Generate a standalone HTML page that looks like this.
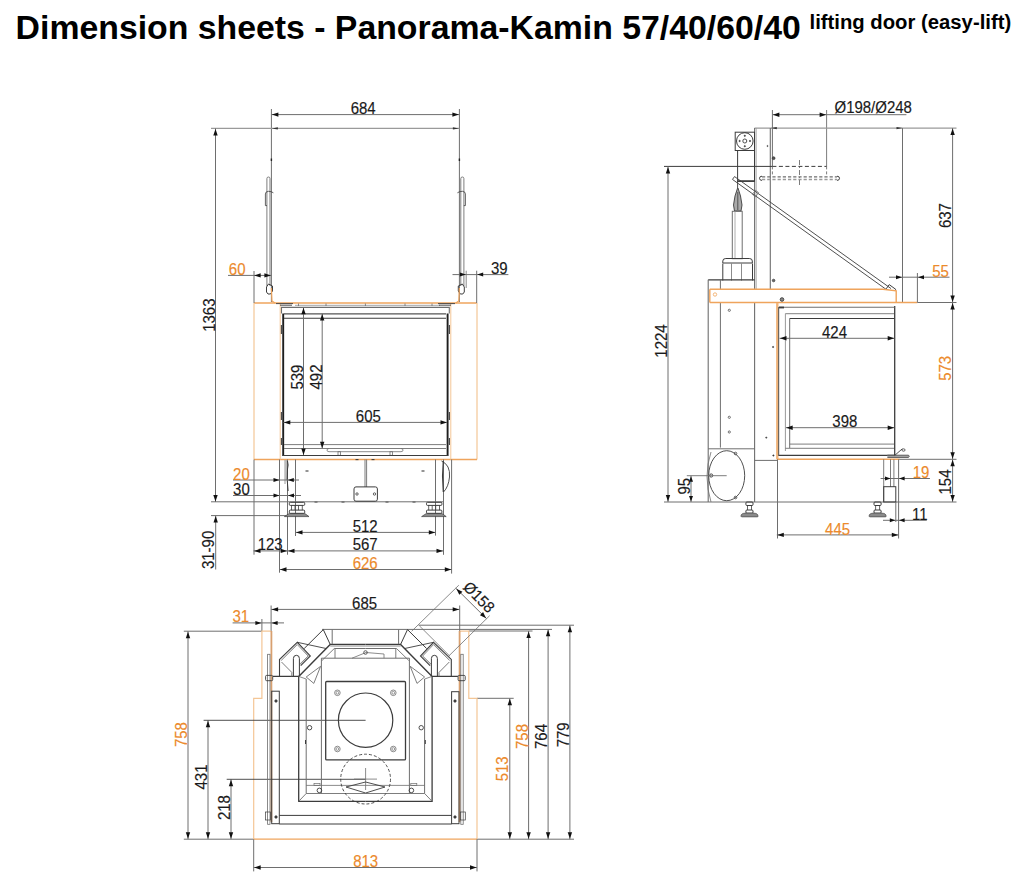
<!DOCTYPE html><html><head><meta charset="utf-8"><style>html,body{margin:0;padding:0;background:#fff;width:1023px;height:885px;overflow:hidden}svg{display:block}text{font-family:"Liberation Sans",sans-serif}</style></head><body>
<svg width="1023" height="885" viewBox="0 0 1023 885">
<rect width="1023" height="885" fill="#fff"/>
<text x="0" y="0" fill="#000" font-size="33.8" text-anchor="start" transform="translate(15.60 38.60)" font-weight="bold">Dimension sheets - Panorama-Kamin 57/40/60/40</text>
<text x="0" y="0" fill="#000" font-size="20.3" text-anchor="start" transform="translate(809.50 28.90)" font-weight="bold">lifting door (easy-lift)</text>
<line x1="271.4" y1="114.6" x2="459.4" y2="114.6" stroke="#6e6e6e" stroke-width="1.0" />
<polygon points="271.90,114.60 278.40,112.40 278.40,116.80" fill="#111"/>
<polygon points="458.90,114.60 452.40,116.80 452.40,112.40" fill="#111"/>
<line x1="271.4" y1="109" x2="271.4" y2="302" stroke="#6e6e6e" stroke-width="1.0" />
<line x1="459.4" y1="109" x2="459.4" y2="302" stroke="#6e6e6e" stroke-width="1.0" />
<text x="0" y="0" fill="#1a1a1a" font-size="15" text-anchor="middle" transform="translate(363.20 114.10) scale(1.0 1.05)" stroke="#1a1a1a" stroke-width="0.15" >684</text>
<line x1="211" y1="128.4" x2="459.4" y2="128.4" stroke="#9a9a9a" stroke-width="1.1" />
<polygon points="271.90,128.40 277.90,127.20 277.90,129.60" fill="#333"/>
<polygon points="458.90,128.40 452.90,129.60 452.90,127.20" fill="#333"/>
<line x1="215.5" y1="128.4" x2="215.5" y2="502" stroke="#6e6e6e" stroke-width="1.0" />
<polygon points="215.50,128.90 217.70,135.40 213.30,135.40" fill="#111"/>
<polygon points="215.50,501.50 213.30,495.00 217.70,495.00" fill="#111"/>
<text x="0" y="0" fill="#1a1a1a" font-size="15" text-anchor="middle" transform="translate(214.90 315.20) rotate(-90) scale(1.0 1.05)" stroke="#1a1a1a" stroke-width="0.15" >1363</text>
<path d="M266.9,286 V178.6 q0,-1.6 1.55,-1.6 q1.55,0 1.55,1.6 V286" stroke="#6e6e6e" stroke-width="0.9" fill="none" />
<path d="M267,205.6 H265.4 V194 q0,-2.5 3,-2.7 q3,0 5,1.5" stroke="#3c3c3c" stroke-width="0.8" fill="none" />
<path d="M268.5,284 q-3,2 -2,8 q1,3 4,2 q3,-2 2,-8 z" stroke="#3c3c3c" stroke-width="1.0" fill="none" />
<path d="M463.9,286 V178.6 q0,-1.6 -1.55,-1.6 q-1.55,0 -1.55,1.6 V286" stroke="#6e6e6e" stroke-width="0.9" fill="none" />
<path d="M463.79999999999995,205.6 H465.4 V194 q0,-2.5 -3,-2.7 q-3,0 -5,1.5" stroke="#3c3c3c" stroke-width="0.8" fill="none" />
<path d="M462.29999999999995,284 q3,2 2,8 q-1,3 -4,2 q-3,-2 -2,-8 z" stroke="#3c3c3c" stroke-width="1.0" fill="none" />
<line x1="254" y1="303" x2="477" y2="303" stroke="#efa45c" stroke-width="1.4" />
<line x1="254" y1="303" x2="254" y2="459.5" stroke="#f4c696" stroke-width="1.2" />
<line x1="477" y1="303" x2="477" y2="459.5" stroke="#f4c696" stroke-width="1.2" />
<line x1="254" y1="459.5" x2="477" y2="459.5" stroke="#efa45c" stroke-width="1.4" />
<line x1="280.2" y1="303" x2="280.2" y2="459.5" stroke="#f4c696" stroke-width="1.0" />
<line x1="450.8" y1="303" x2="450.8" y2="459.5" stroke="#f4c696" stroke-width="1.0" />
<path d="M271.4,288 L272,301 L275,303" stroke="#efa45c" stroke-width="1.2" fill="none" />
<path d="M459.4,288 L458.8,301 L455.8,303" stroke="#efa45c" stroke-width="1.2" fill="none" />
<line x1="228" y1="275.4" x2="271.4" y2="275.4" stroke="#6e6e6e" stroke-width="1.0" />
<line x1="254" y1="271" x2="254" y2="303" stroke="#6e6e6e" stroke-width="1.0" />
<polygon points="254.20,275.40 260.70,273.20 260.70,277.60" fill="#111"/>
<polygon points="270.90,275.40 264.40,277.60 264.40,273.20" fill="#111"/>
<text x="0" y="0" fill="#ec8a2c" font-size="15" text-anchor="middle" transform="translate(237.20 275.40) scale(1.0 1.05)" stroke="#ec8a2c" stroke-width="0.15" >60</text>
<line x1="452.5" y1="274.6" x2="508.4" y2="274.6" stroke="#6e6e6e" stroke-width="1.0" />
<line x1="466.2" y1="270.7" x2="466.2" y2="288" stroke="#6e6e6e" stroke-width="0.8" />
<line x1="476.7" y1="270.7" x2="476.7" y2="303" stroke="#6e6e6e" stroke-width="1.0" />
<polygon points="465.80,274.60 459.80,276.60 459.80,272.60" fill="#111"/>
<polygon points="477.20,274.60 483.20,272.60 483.20,276.60" fill="#111"/>
<text x="0" y="0" fill="#1a1a1a" font-size="15" text-anchor="middle" transform="translate(499.30 274.10) scale(1.0 1.05)" stroke="#1a1a1a" stroke-width="0.15" >39</text>
<line x1="295" y1="305.3" x2="440" y2="305.3" stroke="#9a9a9a" stroke-width="0.9" />
<path d="M276,303.6 H293 M280,305.2 H292" stroke="#3c3c3c" stroke-width="0.9" fill="none" />
<path d="M438,303.6 H455 M439,305.2 H451" stroke="#3c3c3c" stroke-width="0.9" fill="none" />
<line x1="298.5" y1="303.5" x2="298.5" y2="306" stroke="#6e6e6e" stroke-width="0.8" />
<line x1="326" y1="303.5" x2="326" y2="306" stroke="#6e6e6e" stroke-width="0.8" />
<line x1="365.4" y1="303.5" x2="365.4" y2="306" stroke="#6e6e6e" stroke-width="0.8" />
<line x1="405" y1="303.5" x2="405" y2="306" stroke="#6e6e6e" stroke-width="0.8" />
<line x1="432" y1="303.5" x2="432" y2="306" stroke="#6e6e6e" stroke-width="0.8" />
<line x1="283.2" y1="313.5" x2="283.2" y2="456" stroke="#1e1e1e" stroke-width="1.9" />
<line x1="447.6" y1="313.5" x2="447.6" y2="456" stroke="#1e1e1e" stroke-width="1.9" />
<path d="M281.5,313.5 V307.4 H449.3 V313.5" stroke="#6e6e6e" stroke-width="1.1" fill="none" />
<line x1="284" y1="313.8" x2="446" y2="313.8" stroke="#555" stroke-width="1.2" />
<line x1="281.4" y1="325" x2="281.4" y2="334" stroke="#444" stroke-width="1.1" />
<line x1="449.4" y1="325" x2="449.4" y2="334" stroke="#444" stroke-width="1.1" />
<line x1="281.4" y1="412" x2="281.4" y2="420" stroke="#444" stroke-width="1.1" />
<line x1="449.4" y1="412" x2="449.4" y2="420" stroke="#444" stroke-width="1.1" />
<line x1="281.4" y1="438" x2="281.4" y2="445" stroke="#444" stroke-width="1.1" />
<line x1="449.4" y1="438" x2="449.4" y2="445" stroke="#444" stroke-width="1.1" />
<line x1="271.4" y1="158.5" x2="271.4" y2="161.0" stroke="#222" stroke-width="1.4" />
<line x1="459.4" y1="158.5" x2="459.4" y2="161.0" stroke="#222" stroke-width="1.4" />
<line x1="284" y1="318.2" x2="446" y2="318.2" stroke="#3c3c3c" stroke-width="1.1" />
<line x1="284" y1="444.6" x2="446" y2="444.6" stroke="#6e6e6e" stroke-width="0.9" />
<line x1="284" y1="448.5" x2="446" y2="448.5" stroke="#6e6e6e" stroke-width="0.9" />
<path d="M329,448.5 q-2,0 -2,1.6 q0,1.6 2,1.6 H401 q2,0 2,-1.6 q0,-1.6 -2,-1.6" stroke="#6e6e6e" stroke-width="0.8" fill="none" />
<rect x="338" y="451.7" width="2.4" height="3.6" stroke="#6e6e6e" stroke-width="0.8" fill="none" rx="0"/>
<rect x="390" y="451.7" width="2.4" height="3.6" stroke="#6e6e6e" stroke-width="0.8" fill="none" rx="0"/>
<line x1="282.6" y1="455.5" x2="448" y2="455.5" stroke="#3c3c3c" stroke-width="1.1" />
<line x1="303.5" y1="307.5" x2="303.5" y2="455" stroke="#6e6e6e" stroke-width="1.0" />
<polygon points="303.50,307.80 305.70,314.30 301.30,314.30" fill="#111"/>
<polygon points="303.50,455.00 301.30,448.50 305.70,448.50" fill="#111"/>
<text x="0" y="0" fill="#1a1a1a" font-size="15" text-anchor="middle" transform="translate(303.00 377.10) rotate(-90) scale(1.0 1.05)" stroke="#1a1a1a" stroke-width="0.15" >539</text>
<line x1="322.2" y1="313.8" x2="322.2" y2="448.2" stroke="#6e6e6e" stroke-width="1.0" />
<polygon points="322.20,314.00 324.40,320.50 320.00,320.50" fill="#111"/>
<polygon points="322.20,448.20 320.00,441.70 324.40,441.70" fill="#111"/>
<text x="0" y="0" fill="#1a1a1a" font-size="15" text-anchor="middle" transform="translate(321.60 377.00) rotate(-90) scale(1.0 1.05)" stroke="#1a1a1a" stroke-width="0.15" >492</text>
<line x1="283.5" y1="422.4" x2="447" y2="422.4" stroke="#6e6e6e" stroke-width="1.0" />
<polygon points="283.80,422.40 290.30,420.20 290.30,424.60" fill="#111"/>
<polygon points="447.00,422.40 440.50,424.60 440.50,420.20" fill="#111"/>
<text x="0" y="0" fill="#1a1a1a" font-size="15" text-anchor="middle" transform="translate(368.30 421.60) scale(1.0 1.05)" stroke="#1a1a1a" stroke-width="0.15" >605</text>
<line x1="254" y1="459.5" x2="254" y2="554.7" stroke="#6e6e6e" stroke-width="1.0" />
<line x1="279.5" y1="459.5" x2="279.5" y2="572.7" stroke="#6e6e6e" stroke-width="1.0" />
<line x1="287.5" y1="459.5" x2="287.5" y2="554.7" stroke="#6e6e6e" stroke-width="1.0" />
<line x1="295.5" y1="459.5" x2="295.5" y2="536" stroke="#6e6e6e" stroke-width="1.0" />
<line x1="435.5" y1="459.5" x2="435.5" y2="535.6" stroke="#6e6e6e" stroke-width="1.0" />
<line x1="443.5" y1="459.5" x2="443.5" y2="554.8" stroke="#6e6e6e" stroke-width="1.0" />
<line x1="451.6" y1="459.5" x2="451.6" y2="573.6" stroke="#6e6e6e" stroke-width="1.0" />
<path d="M285,460 V484 M286.2,460 V480" stroke="#9a9a9a" stroke-width="1.0" fill="none" />
<path d="M287.5,461 q1.2,4 0,8 q-0.8,12 0.6,22" stroke="#3c3c3c" stroke-width="1.0" fill="none" />
<path d="M441.5,461 q9,4 8,16 q-1,10 -6,15" stroke="#3c3c3c" stroke-width="0.9" fill="none" />
<path d="M443.3,461 q-1.5,15 0,31" stroke="#3c3c3c" stroke-width="1.2" fill="none" />
<line x1="305.5" y1="471" x2="308.5" y2="471" stroke="#3c3c3c" stroke-width="1.1" />
<line x1="421.5" y1="471" x2="424.5" y2="471" stroke="#3c3c3c" stroke-width="1.1" />
<line x1="314.5" y1="502" x2="317.5" y2="502" stroke="#3c3c3c" stroke-width="1.1" />
<line x1="341.5" y1="502" x2="344.5" y2="502" stroke="#3c3c3c" stroke-width="1.1" />
<line x1="385.5" y1="502" x2="388.5" y2="502" stroke="#3c3c3c" stroke-width="1.1" />
<line x1="412.5" y1="502" x2="415.5" y2="502" stroke="#3c3c3c" stroke-width="1.1" />
<line x1="355.5" y1="459.6" x2="358.5" y2="459.6" stroke="#3c3c3c" stroke-width="1.1" />
<line x1="371.5" y1="459.6" x2="374.5" y2="459.6" stroke="#3c3c3c" stroke-width="1.1" />
<line x1="211" y1="501.8" x2="443" y2="501.8" stroke="#6e6e6e" stroke-width="1.0" />
<line x1="211" y1="515.6" x2="300" y2="515.6" stroke="#6e6e6e" stroke-width="1.0" />
<line x1="365" y1="459.5" x2="365" y2="487" stroke="#6e6e6e" stroke-width="0.9" />
<line x1="366.6" y1="459.5" x2="366.6" y2="487" stroke="#6e6e6e" stroke-width="0.9" />
<rect x="354" y="486.9" width="23.4" height="14.3" stroke="#3c3c3c" stroke-width="1.0" fill="none" rx="2"/>
<circle cx="357" cy="494" r="1.2" stroke="#3c3c3c" stroke-width="0.8" fill="none" />
<circle cx="374.5" cy="494" r="1.2" stroke="#3c3c3c" stroke-width="0.8" fill="none" />
<rect x="289.3" y="502.3" width="15.4" height="3.1" stroke="#3c3c3c" stroke-width="1.0" fill="none" rx="1"/>
<line x1="291.5" y1="505.4" x2="291.5" y2="510.1" stroke="#3c3c3c" stroke-width="0.8" />
<line x1="295" y1="505.4" x2="295" y2="510.1" stroke="#3c3c3c" stroke-width="0.8" />
<line x1="298.5" y1="505.4" x2="298.5" y2="510.1" stroke="#3c3c3c" stroke-width="0.8" />
<line x1="302.3" y1="505.4" x2="302.3" y2="510.1" stroke="#3c3c3c" stroke-width="0.8" />
<rect x="289.3" y="510.1" width="15.4" height="3.3" stroke="#3c3c3c" stroke-width="1.0" fill="none" rx="1"/>
<path d="M284.4,516.6 L289.3,513.4 H304.7 L309,516.6 Z" stroke="#3c3c3c" stroke-width="0.7" fill="#8a8a8a" />
<rect x="426.5" y="502.3" width="15.4" height="3.1" stroke="#3c3c3c" stroke-width="1.0" fill="none" rx="1"/>
<line x1="428.7" y1="505.4" x2="428.7" y2="510.1" stroke="#3c3c3c" stroke-width="0.8" />
<line x1="432.2" y1="505.4" x2="432.2" y2="510.1" stroke="#3c3c3c" stroke-width="0.8" />
<line x1="435.7" y1="505.4" x2="435.7" y2="510.1" stroke="#3c3c3c" stroke-width="0.8" />
<line x1="439.5" y1="505.4" x2="439.5" y2="510.1" stroke="#3c3c3c" stroke-width="0.8" />
<rect x="426.5" y="510.1" width="15.4" height="3.3" stroke="#3c3c3c" stroke-width="1.0" fill="none" rx="1"/>
<path d="M421.59999999999997,516.6 L426.5,513.4 H441.9 L446.2,516.6 Z" stroke="#3c3c3c" stroke-width="0.7" fill="#8a8a8a" />
<line x1="233" y1="480" x2="299" y2="480" stroke="#6e6e6e" stroke-width="1.0" />
<polygon points="279.50,480.00 273.50,482.00 273.50,478.00" fill="#111"/>
<polygon points="287.80,480.00 293.80,478.00 293.80,482.00" fill="#111"/>
<text x="0" y="0" fill="#ec8a2c" font-size="15" text-anchor="middle" transform="translate(241.40 479.60) scale(1.0 1.05)" stroke="#ec8a2c" stroke-width="0.15" >20</text>
<line x1="233" y1="495.5" x2="301" y2="495.5" stroke="#6e6e6e" stroke-width="1.0" />
<polygon points="279.50,495.50 273.50,497.50 273.50,493.50" fill="#111"/>
<polygon points="288.00,495.50 294.00,493.50 294.00,497.50" fill="#111"/>
<text x="0" y="0" fill="#1a1a1a" font-size="15" text-anchor="middle" transform="translate(241.40 495.00) scale(1.0 1.05)" stroke="#1a1a1a" stroke-width="0.15" >30</text>
<line x1="215.7" y1="515.6" x2="215.7" y2="569.5" stroke="#6e6e6e" stroke-width="1.0" />
<polygon points="215.70,516.00 217.90,522.50 213.50,522.50" fill="#111"/>
<text x="0" y="0" fill="#1a1a1a" font-size="15" text-anchor="middle" transform="translate(214.30 549.90) rotate(-90) scale(1.0 1.05)" stroke="#1a1a1a" stroke-width="0.15" >31-90</text>
<line x1="295.5" y1="532.4" x2="435.8" y2="532.4" stroke="#6e6e6e" stroke-width="1.0" />
<polygon points="296.00,532.40 302.50,530.20 302.50,534.60" fill="#111"/>
<polygon points="435.30,532.40 428.80,534.60 428.80,530.20" fill="#111"/>
<text x="0" y="0" fill="#1a1a1a" font-size="15" text-anchor="middle" transform="translate(365.20 531.50) scale(1.0 1.05)" stroke="#1a1a1a" stroke-width="0.15" >512</text>
<line x1="253.5" y1="550.9" x2="443.5" y2="550.9" stroke="#6e6e6e" stroke-width="1.0" />
<polygon points="254.00,550.90 260.50,548.70 260.50,553.10" fill="#111"/>
<polygon points="287.20,550.90 280.70,553.10 280.70,548.70" fill="#111"/>
<polygon points="288.00,550.90 294.50,548.70 294.50,553.10" fill="#111"/>
<polygon points="443.00,550.90 436.50,553.10 436.50,548.70" fill="#111"/>
<text x="0" y="0" fill="#1a1a1a" font-size="15" text-anchor="middle" transform="translate(270.20 550.10) scale(1.0 1.05)" stroke="#1a1a1a" stroke-width="0.15" >123</text>
<text x="0" y="0" fill="#1a1a1a" font-size="15" text-anchor="middle" transform="translate(365.20 550.20) scale(1.0 1.05)" stroke="#1a1a1a" stroke-width="0.15" >567</text>
<line x1="279.5" y1="569.5" x2="451.8" y2="569.5" stroke="#6e6e6e" stroke-width="1.0" />
<polygon points="280.00,569.50 286.50,567.30 286.50,571.70" fill="#111"/>
<polygon points="451.30,569.50 444.80,571.70 444.80,567.30" fill="#111"/>
<text x="0" y="0" fill="#ec8a2c" font-size="15" text-anchor="middle" transform="translate(365.20 569.00) scale(1.0 1.05)" stroke="#ec8a2c" stroke-width="0.15" >626</text>
<line x1="772.4" y1="114.7" x2="906.4" y2="114.7" stroke="#6e6e6e" stroke-width="1.0" />
<polygon points="772.90,114.70 779.40,112.50 779.40,116.90" fill="#111"/>
<polygon points="826.10,114.70 819.60,116.90 819.60,112.50" fill="#111"/>
<line x1="772.4" y1="110" x2="772.4" y2="166.4" stroke="#6e6e6e" stroke-width="1.0" />
<line x1="826.6" y1="110" x2="826.6" y2="166.4" stroke="#6e6e6e" stroke-width="0.9" />
<line x1="772.4" y1="166.4" x2="772.4" y2="176" stroke="#6e6e6e" stroke-width="0.9" stroke-dasharray="3,2"/>
<line x1="826.6" y1="166.4" x2="826.6" y2="176" stroke="#6e6e6e" stroke-width="0.9" stroke-dasharray="3,2"/>
<text x="0" y="0" fill="#1a1a1a" font-size="15" text-anchor="middle" transform="translate(873.20 113.30) scale(1.0 1.05)" stroke="#1a1a1a" stroke-width="0.15" >Ø198/Ø248</text>
<line x1="754.5" y1="128.1" x2="956.5" y2="128.1" stroke="#9a9a9a" stroke-width="1.2" />
<polygon points="902.50,128.10 896.50,129.30 896.50,126.90" fill="#333"/>
<polygon points="770.80,128.10 776.80,126.90 776.80,129.30" fill="#333"/>
<line x1="754.6" y1="128.1" x2="754.6" y2="502" stroke="#6e6e6e" stroke-width="1.1" />
<line x1="756.2" y1="128.1" x2="756.2" y2="289" stroke="#9a9a9a" stroke-width="0.8" />
<line x1="770.3" y1="128.1" x2="770.3" y2="289" stroke="#6e6e6e" stroke-width="1.1" />
<line x1="902.5" y1="128.1" x2="902.5" y2="302.5" stroke="#6e6e6e" stroke-width="1.0" />
<rect x="735.2" y="132.2" width="19.3" height="18.3" stroke="#3c3c3c" stroke-width="1.0" fill="none" rx="0"/>
<circle cx="744.8" cy="141" r="8.3" stroke="#3c3c3c" stroke-width="1.0" fill="none" />
<circle cx="744.8" cy="141" r="2.0" stroke="#3c3c3c" stroke-width="0.9" fill="none" />
<circle cx="750.0" cy="141.0" r="0.7" stroke="#3c3c3c" stroke-width="0.6" fill="#3c3c3c" />
<circle cx="744.8" cy="146.2" r="0.7" stroke="#3c3c3c" stroke-width="0.6" fill="#3c3c3c" />
<circle cx="739.5999999999999" cy="141.0" r="0.7" stroke="#3c3c3c" stroke-width="0.6" fill="#3c3c3c" />
<circle cx="744.8" cy="135.8" r="0.7" stroke="#3c3c3c" stroke-width="0.6" fill="#3c3c3c" />
<rect x="737.6" y="150.5" width="16.9" height="30.9" stroke="#3c3c3c" stroke-width="1.0" fill="none" rx="0"/>
<line x1="737.6" y1="181" x2="754.5" y2="181" stroke="#3c3c3c" stroke-width="1.5" />
<circle cx="743" cy="143" r="0" stroke="#3c3c3c" stroke-width="1.0" fill="none" />
<circle cx="773.6" cy="158.2" r="1.4" stroke="#3c3c3c" stroke-width="0.8" fill="#555" />
<line x1="664" y1="166.4" x2="772.4" y2="166.4" stroke="#3c3c3c" stroke-width="1.0" />
<line x1="772.4" y1="166.4" x2="826.6" y2="166.4" stroke="#3c3c3c" stroke-width="1.0" stroke-dasharray="4,2.5"/>
<line x1="762" y1="176.8" x2="837" y2="176.8" stroke="#6e6e6e" stroke-width="1.3" stroke-dasharray="3.2,2"/>
<line x1="762" y1="179.6" x2="837" y2="179.6" stroke="#9a9a9a" stroke-width="1.5" stroke-dasharray="3.2,2"/>
<path d="M762,176.2 q-2.5,0 -2.5,2.1 q0,2.1 2.5,2.1" stroke="#3c3c3c" stroke-width="1.0" fill="none" />
<path d="M837,176.2 q2.5,0 2.5,2.1 q0,2.1 -2.5,2.1" stroke="#3c3c3c" stroke-width="1.0" fill="none" />
<line x1="799.5" y1="160" x2="799.5" y2="186" stroke="#6e6e6e" stroke-width="0.9" stroke-dasharray="5,2,1,2"/>
<line x1="668" y1="166.4" x2="668" y2="502" stroke="#6e6e6e" stroke-width="1.0" />
<polygon points="668.00,166.90 670.20,173.40 665.80,173.40" fill="#111"/>
<polygon points="668.00,501.50 665.80,495.00 670.20,495.00" fill="#111"/>
<text x="0" y="0" fill="#1a1a1a" font-size="15" text-anchor="middle" transform="translate(666.80 341.00) rotate(-90) scale(1.0 1.05)" stroke="#1a1a1a" stroke-width="0.15" >1224</text>
<line x1="734.5197036032662" y1="176.5777818164972" x2="891.0197036032662" y2="288.5777818164972" stroke="#3c3c3c" stroke-width="0.9" />
<line x1="732.4802963967338" y1="179.4222181835028" x2="888.9802963967338" y2="291.4222181835028" stroke="#3c3c3c" stroke-width="0.9" />
<line x1="734.5197036032662" y1="176.5777818164972" x2="732.4802963967338" y2="179.4222181835028" stroke="#3c3c3c" stroke-width="0.9" />
<g transform="translate(755.5,193.5) rotate(35.64)">
<rect x="-2" y="-2.6" width="4" height="5.2" stroke="#6e6e6e" stroke-width="0.7" fill="none" rx="0"/>
</g>
<g transform="translate(891,289) rotate(35.64)">
<rect x="-4" y="-2.5" width="8" height="5" stroke="#3c3c3c" stroke-width="0.9" fill="none" rx="0"/>
</g>
<path d="M737.6,181 V188 L735,196 L733.5,205 L734.5,211 H741 L742,205 L740.5,196 L738,188" stroke="#3c3c3c" stroke-width="0.9" fill="#aaa" />
<line x1="737.8" y1="192" x2="737.8" y2="210" stroke="#3c3c3c" stroke-width="0.8" />
<rect x="732.3" y="211.3" width="9.9" height="47.4" stroke="#6e6e6e" stroke-width="1.0" fill="none" rx="0"/>
<line x1="735" y1="211.3" x2="735" y2="258.7" stroke="#9a9a9a" stroke-width="0.8" />
<path d="M722.8,261 q0,-2.5 3,-2.5 h23.5 q3,0 3,2.5 v2 h-29.5 z" stroke="#3c3c3c" stroke-width="1.0" fill="none" />
<path d="M722.8,263.5 V280.5 M752.5,263.5 V280.5" stroke="#3c3c3c" stroke-width="1.0" fill="none" />
<line x1="731.5" y1="263.5" x2="731.5" y2="280.6" stroke="#6e6e6e" stroke-width="0.8" />
<line x1="741.5" y1="263.5" x2="741.5" y2="280.6" stroke="#6e6e6e" stroke-width="0.8" />
<line x1="708.2" y1="279.8" x2="754.6" y2="279.8" stroke="#3c3c3c" stroke-width="1.2" />
<line x1="708.2" y1="279.8" x2="708.2" y2="502" stroke="#6e6e6e" stroke-width="1.1" />
<line x1="720.4" y1="280" x2="720.4" y2="447.6" stroke="#6e6e6e" stroke-width="1.0" />
<line x1="708.2" y1="448.8" x2="754.6" y2="448.8" stroke="#6e6e6e" stroke-width="1.0" />
<circle cx="729.3" cy="310.3" r="1.1" stroke="#3c3c3c" stroke-width="0.7" fill="none" />
<circle cx="729.3" cy="417.3" r="1.1" stroke="#3c3c3c" stroke-width="0.7" fill="none" />
<circle cx="729.3" cy="432" r="1.1" stroke="#3c3c3c" stroke-width="0.7" fill="none" />
<circle cx="773.1" cy="347" r="0.7" stroke="#3c3c3c" stroke-width="0.5" fill="#3c3c3c" />
<circle cx="766.3" cy="437.6" r="0.7" stroke="#3c3c3c" stroke-width="0.5" fill="#3c3c3c" />
<circle cx="773.4" cy="455.5" r="0.7" stroke="#3c3c3c" stroke-width="0.5" fill="#3c3c3c" />
<circle cx="773.6" cy="280.5" r="1.3" stroke="#3c3c3c" stroke-width="0.7" fill="#666" />
<circle cx="767.5" cy="146" r="0.6" stroke="#3c3c3c" stroke-width="0.5" fill="#3c3c3c" />
<path d="M709.8,289.2 H883 L896.2,290.8 V302.5 H709.8 Z" stroke="#efa45c" stroke-width="0.1" fill="#fff" />
<path d="M709.8,289.2 H883 L896.2,290.8 V302.5" stroke="#efa45c" stroke-width="1.4" fill="none" />
<line x1="709.8" y1="289.2" x2="709.8" y2="302.5" stroke="#efa45c" stroke-width="1.4" />
<line x1="709.8" y1="302.5" x2="917.4" y2="302.5" stroke="#efa45c" stroke-width="1.5" />
<circle cx="715" cy="294.5" r="1.7" stroke="#efa45c" stroke-width="0.8" fill="none" />
<circle cx="782" cy="299.5" r="1.8" stroke="#3c3c3c" stroke-width="0.9" fill="#888" />
<line x1="889" y1="277.2" x2="949.5" y2="277.2" stroke="#6e6e6e" stroke-width="1.0" />
<line x1="917.4" y1="273" x2="917.4" y2="302.5" stroke="#6e6e6e" stroke-width="1.0" />
<polygon points="902.00,277.20 896.00,279.20 896.00,275.20" fill="#111"/>
<polygon points="918.00,277.20 924.00,275.20 924.00,279.20" fill="#111"/>
<text x="0" y="0" fill="#ec8a2c" font-size="15" text-anchor="middle" transform="translate(940.60 277.30) scale(1.0 1.05)" stroke="#ec8a2c" stroke-width="0.15" >55</text>
<line x1="917.4" y1="302.5" x2="956.5" y2="302.5" stroke="#6e6e6e" stroke-width="1.0" />
<line x1="899" y1="459.3" x2="956.5" y2="459.3" stroke="#6e6e6e" stroke-width="1.0" />
<line x1="664" y1="502" x2="956.5" y2="502" stroke="#6e6e6e" stroke-width="1.0" />
<line x1="952.6" y1="128.1" x2="952.6" y2="502" stroke="#6e6e6e" stroke-width="1.0" />
<polygon points="952.60,128.60 954.80,135.10 950.40,135.10" fill="#111"/>
<polygon points="952.60,302.00 950.40,295.50 954.80,295.50" fill="#111"/>
<polygon points="952.60,303.00 954.80,309.50 950.40,309.50" fill="#111"/>
<polygon points="952.60,458.80 950.40,452.30 954.80,452.30" fill="#111"/>
<polygon points="952.60,459.80 954.80,466.30 950.40,466.30" fill="#111"/>
<polygon points="952.60,501.50 950.40,495.00 954.80,495.00" fill="#111"/>
<text x="0" y="0" fill="#1a1a1a" font-size="15" text-anchor="middle" transform="translate(951.40 215.60) rotate(-90) scale(1.0 1.05)" stroke="#1a1a1a" stroke-width="0.15" >637</text>
<text x="0" y="0" fill="#ec8a2c" font-size="15" text-anchor="middle" transform="translate(951.40 368.30) rotate(-90) scale(1.0 1.05)" stroke="#ec8a2c" stroke-width="0.15" >573</text>
<text x="0" y="0" fill="#1a1a1a" font-size="15" text-anchor="middle" transform="translate(951.10 482.00) rotate(-90) scale(1.0 1.05)" stroke="#1a1a1a" stroke-width="0.15" >154</text>
<line x1="777.3" y1="303" x2="777.3" y2="459.3" stroke="#f0b47a" stroke-width="2.4" />
<line x1="778.7" y1="307" x2="778.7" y2="456" stroke="#3c3c3c" stroke-width="0.9" />
<line x1="785.4" y1="313.5" x2="785.4" y2="451" stroke="#9a9a9a" stroke-width="1.0" />
<line x1="789.7" y1="318.5" x2="789.7" y2="448" stroke="#6e6e6e" stroke-width="1.0" />
<line x1="894.7" y1="306" x2="894.7" y2="455.4" stroke="#3c3c3c" stroke-width="1.3" />
<line x1="778.7" y1="307.3" x2="894.7" y2="307.3" stroke="#6e6e6e" stroke-width="1.1" />
<path d="M779,307.5 h5" stroke="#3c3c3c" stroke-width="1.8" fill="none" />
<line x1="785.4" y1="313.7" x2="894" y2="313.7" stroke="#9a9a9a" stroke-width="1.2" />
<line x1="789.7" y1="318.5" x2="894" y2="318.5" stroke="#3c3c3c" stroke-width="1.0" />
<line x1="789.7" y1="444.1" x2="894" y2="444.1" stroke="#6e6e6e" stroke-width="0.9" />
<line x1="785.4" y1="448.3" x2="894" y2="448.3" stroke="#6e6e6e" stroke-width="0.9" />
<line x1="779" y1="455.4" x2="894.7" y2="455.4" stroke="#3c3c3c" stroke-width="1.2" />
<line x1="777.5" y1="459.3" x2="899.4" y2="459.3" stroke="#efa45c" stroke-width="1.5" />
<line x1="779.5" y1="338.3" x2="894.2" y2="338.3" stroke="#6e6e6e" stroke-width="1.0" />
<polygon points="780.00,338.30 786.50,336.10 786.50,340.50" fill="#111"/>
<polygon points="894.20,338.30 887.70,340.50 887.70,336.10" fill="#111"/>
<text x="0" y="0" fill="#1a1a1a" font-size="15" text-anchor="middle" transform="translate(834.50 338.20) scale(1.0 1.05)" stroke="#1a1a1a" stroke-width="0.15" >424</text>
<line x1="785.9" y1="427.7" x2="894.2" y2="427.7" stroke="#6e6e6e" stroke-width="1.0" />
<polygon points="786.20,427.70 792.70,425.50 792.70,429.90" fill="#111"/>
<polygon points="894.20,427.70 887.70,429.90 887.70,425.50" fill="#111"/>
<text x="0" y="0" fill="#1a1a1a" font-size="15" text-anchor="middle" transform="translate(844.80 427.00) scale(1.0 1.05)" stroke="#1a1a1a" stroke-width="0.15" >398</text>
<line x1="754.6" y1="460.4" x2="777.5" y2="460.4" stroke="#6e6e6e" stroke-width="1.0" />
<ellipse cx="726.7" cy="475.7" rx="18" ry="25" stroke="#3c3c3c" stroke-width="0.9" fill="none"/>
<path d="M711,452 q-8,24 0,50" stroke="#6e6e6e" stroke-width="0.8" fill="none" />
<circle cx="711.2" cy="475.5" r="1.6" stroke="#3c3c3c" stroke-width="0.9" fill="none" />
<circle cx="735.5" cy="453.5" r="1.3" stroke="#3c3c3c" stroke-width="0.8" fill="none" />
<circle cx="735.5" cy="497.5" r="1.3" stroke="#3c3c3c" stroke-width="0.8" fill="none" />
<line x1="686.8" y1="475.7" x2="726.7" y2="475.7" stroke="#6e6e6e" stroke-width="0.9" />
<line x1="691" y1="475.7" x2="691" y2="502" stroke="#6e6e6e" stroke-width="1.0" />
<polygon points="691.00,476.20 693.00,481.70 689.00,481.70" fill="#111"/>
<polygon points="691.00,501.50 689.00,496.00 693.00,496.00" fill="#111"/>
<text x="0" y="0" fill="#1a1a1a" font-size="15" text-anchor="middle" transform="translate(689.60 486.20) rotate(-90) scale(1.0 1.05)" stroke="#1a1a1a" stroke-width="0.15" >95</text>
<line x1="777.5" y1="459.3" x2="777.5" y2="538.5" stroke="#6e6e6e" stroke-width="1.0" />
<line x1="898.6" y1="459.3" x2="898.6" y2="538.5" stroke="#6e6e6e" stroke-width="1.0" />
<line x1="776.8" y1="534.9" x2="898.8" y2="534.9" stroke="#6e6e6e" stroke-width="1.0" />
<polygon points="777.30,534.90 783.80,532.70 783.80,537.10" fill="#111"/>
<polygon points="898.30,534.90 891.80,537.10 891.80,532.70" fill="#111"/>
<text x="0" y="0" fill="#ec8a2c" font-size="15" text-anchor="middle" transform="translate(837.60 534.70) scale(1.0 1.05)" stroke="#ec8a2c" stroke-width="0.15" >445</text>
<line x1="883.7" y1="459.3" x2="883.7" y2="502" stroke="#6e6e6e" stroke-width="0.9" />
<line x1="890.5" y1="459.3" x2="890.5" y2="487" stroke="#6e6e6e" stroke-width="0.9" />
<line x1="893.9" y1="459.3" x2="893.9" y2="487" stroke="#6e6e6e" stroke-width="0.9" />
<rect x="883.7" y="486.7" width="12.1" height="15.3" stroke="#3c3c3c" stroke-width="1.0" fill="none" rx="0"/>
<line x1="895.8" y1="502" x2="895.8" y2="522" stroke="#6e6e6e" stroke-width="1.0" />
<path d="M887.4,455.2 H908.5 q1.6,1 0,2.2 H887.4" stroke="#3c3c3c" stroke-width="0.8" fill="#aaa" />
<path d="M894.6,455.5 L902.3,448.8" stroke="#3c3c3c" stroke-width="0.9" fill="none" />
<ellipse cx="903.5" cy="450" rx="1.6" ry="1.2" stroke="#3c3c3c" stroke-width="0.8" fill="none"/>
<line x1="880.6" y1="478.5" x2="929.9" y2="478.5" stroke="#6e6e6e" stroke-width="1.0" />
<polygon points="890.50,478.50 885.00,480.50 885.00,476.50" fill="#111"/>
<polygon points="899.10,478.50 904.60,476.50 904.60,480.50" fill="#111"/>
<text x="0" y="0" fill="#ec8a2c" font-size="15" text-anchor="middle" transform="translate(921.00 478.40) scale(1.0 1.05)" stroke="#ec8a2c" stroke-width="0.15" >19</text>
<line x1="883" y1="520.3" x2="926.8" y2="520.3" stroke="#6e6e6e" stroke-width="1.0" />
<polygon points="895.30,520.30 889.80,522.30 889.80,518.30" fill="#111"/>
<polygon points="899.10,520.30 904.60,518.30 904.60,522.30" fill="#111"/>
<text x="0" y="0" fill="#1a1a1a" font-size="15" text-anchor="middle" transform="translate(919.70 520.10) scale(1.0 1.05)" stroke="#1a1a1a" stroke-width="0.15" >11</text>
<rect x="745.9" y="502" width="7.1" height="3.5" stroke="#3c3c3c" stroke-width="1.0" fill="none" rx="1"/>
<line x1="747.5" y1="505.5" x2="747.5" y2="510" stroke="#3c3c3c" stroke-width="0.8" />
<line x1="751.5" y1="505.5" x2="751.5" y2="510" stroke="#3c3c3c" stroke-width="0.8" />
<rect x="745.9" y="510" width="7.1" height="3.2" stroke="#3c3c3c" stroke-width="1.0" fill="none" rx="1"/>
<path d="M740.9,516.3 q0,-3.2 5,-3.2 h7.2 q5,0 5,3.2 q0,0.6 -1,0.6 h-15 q-1,0 -1,-0.6 z" stroke="#3c3c3c" stroke-width="0.6" fill="#8a8a8a" />
<rect x="874.0" y="502" width="7.1" height="3.5" stroke="#3c3c3c" stroke-width="1.0" fill="none" rx="1"/>
<line x1="875.6" y1="505.5" x2="875.6" y2="510" stroke="#3c3c3c" stroke-width="0.8" />
<line x1="879.6" y1="505.5" x2="879.6" y2="510" stroke="#3c3c3c" stroke-width="0.8" />
<rect x="874.0" y="510" width="7.1" height="3.2" stroke="#3c3c3c" stroke-width="1.0" fill="none" rx="1"/>
<path d="M869.0,516.3 q0,-3.2 5,-3.2 h7.2 q5,0 5,3.2 q0,0.6 -1,0.6 h-15 q-1,0 -1,-0.6 z" stroke="#3c3c3c" stroke-width="0.6" fill="#8a8a8a" />
<line x1="271.1" y1="609.4" x2="459.7" y2="609.4" stroke="#6e6e6e" stroke-width="1.0" />
<polygon points="271.60,609.40 278.10,607.20 278.10,611.60" fill="#111"/>
<polygon points="459.20,609.40 452.70,611.60 452.70,607.20" fill="#111"/>
<line x1="271.1" y1="605.5" x2="271.1" y2="631" stroke="#6e6e6e" stroke-width="1.0" />
<line x1="459.7" y1="605.5" x2="459.7" y2="631" stroke="#6e6e6e" stroke-width="1.0" />
<text x="0" y="0" fill="#1a1a1a" font-size="15" text-anchor="middle" transform="translate(364.60 608.60) scale(1.0 1.05)" stroke="#1a1a1a" stroke-width="0.15" >685</text>
<line x1="232.6" y1="622.9" x2="284" y2="622.9" stroke="#6e6e6e" stroke-width="1.0" />
<line x1="261.9" y1="619" x2="261.9" y2="631" stroke="#6e6e6e" stroke-width="1.0" />
<polygon points="261.40,622.90 255.40,624.90 255.40,620.90" fill="#111"/>
<polygon points="271.60,622.90 277.60,620.90 277.60,624.90" fill="#111"/>
<text x="0" y="0" fill="#ec8a2c" font-size="15" text-anchor="middle" transform="translate(240.80 622.40) scale(1.0 1.05)" stroke="#ec8a2c" stroke-width="0.15" >31</text>
<line x1="183.8" y1="631.2" x2="262" y2="631.2" stroke="#6e6e6e" stroke-width="1.0" />
<line x1="322" y1="629.4" x2="552" y2="629.4" stroke="#6e6e6e" stroke-width="1.0" />
<line x1="418.6" y1="625.2" x2="574" y2="625.2" stroke="#6e6e6e" stroke-width="1.0" />
<line x1="468.8" y1="631" x2="532.5" y2="631" stroke="#6e6e6e" stroke-width="1.0" />
<line x1="477" y1="698.3" x2="513.7" y2="698.3" stroke="#6e6e6e" stroke-width="1.0" />
<line x1="183.8" y1="839.2" x2="253.7" y2="839.2" stroke="#6e6e6e" stroke-width="1.0" />
<line x1="477" y1="839.2" x2="574" y2="839.2" stroke="#6e6e6e" stroke-width="1.0" />
<path d="M253.7,839.2 V698.3 H261.9 V631.2 H271.1" stroke="#f4c696" stroke-width="1.2" fill="none" />
<path d="M477,839.2 V698.3 H468.8 V631.2 H459.7" stroke="#f4c696" stroke-width="1.2" fill="none" />
<line x1="253.7" y1="839.2" x2="477" y2="839.2" stroke="#efa45c" stroke-width="1.3" />
<line x1="271.4" y1="631" x2="271.4" y2="822" stroke="#d8a070" stroke-width="1.8" />
<line x1="459.6" y1="631" x2="459.6" y2="822" stroke="#d8a070" stroke-width="1.8" />
<line x1="188" y1="631.2" x2="188" y2="839.2" stroke="#6e6e6e" stroke-width="1.0" />
<polygon points="188.00,631.70 190.20,638.20 185.80,638.20" fill="#111"/>
<polygon points="188.00,838.70 185.80,832.20 190.20,832.20" fill="#111"/>
<line x1="208" y1="720.3" x2="208" y2="839.2" stroke="#6e6e6e" stroke-width="1.0" />
<polygon points="208.00,720.80 210.20,727.30 205.80,727.30" fill="#111"/>
<polygon points="208.00,838.70 205.80,832.20 210.20,832.20" fill="#111"/>
<line x1="231" y1="779.3" x2="231" y2="839.2" stroke="#6e6e6e" stroke-width="1.0" />
<polygon points="231.00,779.80 233.20,786.30 228.80,786.30" fill="#111"/>
<polygon points="231.00,838.70 228.80,832.20 233.20,832.20" fill="#111"/>
<line x1="509.8" y1="698.3" x2="509.8" y2="839.2" stroke="#6e6e6e" stroke-width="1.0" />
<polygon points="509.80,698.80 512.00,705.30 507.60,705.30" fill="#111"/>
<polygon points="509.80,838.70 507.60,832.20 512.00,832.20" fill="#111"/>
<line x1="528.6" y1="631" x2="528.6" y2="839.2" stroke="#6e6e6e" stroke-width="1.0" />
<polygon points="528.60,631.50 530.80,638.00 526.40,638.00" fill="#111"/>
<polygon points="528.60,838.70 526.40,832.20 530.80,832.20" fill="#111"/>
<line x1="548.1" y1="629.2" x2="548.1" y2="839.2" stroke="#6e6e6e" stroke-width="1.0" />
<polygon points="548.10,629.70 550.30,636.20 545.90,636.20" fill="#111"/>
<polygon points="548.10,838.70 545.90,832.20 550.30,832.20" fill="#111"/>
<line x1="569.9" y1="625.2" x2="569.9" y2="839.2" stroke="#6e6e6e" stroke-width="1.0" />
<polygon points="569.90,625.70 572.10,632.20 567.70,632.20" fill="#111"/>
<polygon points="569.90,838.70 567.70,832.20 572.10,832.20" fill="#111"/>
<text x="0" y="0" fill="#ec8a2c" font-size="15" text-anchor="middle" transform="translate(187.10 734.60) rotate(-90) scale(1.0 1.05)" stroke="#ec8a2c" stroke-width="0.15" >758</text>
<text x="0" y="0" fill="#1a1a1a" font-size="15" text-anchor="middle" transform="translate(207.20 777.00) rotate(-90) scale(1.0 1.05)" stroke="#1a1a1a" stroke-width="0.15" >431</text>
<text x="0" y="0" fill="#1a1a1a" font-size="15" text-anchor="middle" transform="translate(229.80 807.60) rotate(-90) scale(1.0 1.05)" stroke="#1a1a1a" stroke-width="0.15" >218</text>
<text x="0" y="0" fill="#ec8a2c" font-size="15" text-anchor="middle" transform="translate(508.20 768.80) rotate(-90) scale(1.0 1.05)" stroke="#ec8a2c" stroke-width="0.15" >513</text>
<text x="0" y="0" fill="#ec8a2c" font-size="15" text-anchor="middle" transform="translate(527.90 736.50) rotate(-90) scale(1.0 1.05)" stroke="#ec8a2c" stroke-width="0.15" >758</text>
<text x="0" y="0" fill="#1a1a1a" font-size="15" text-anchor="middle" transform="translate(547.00 736.50) rotate(-90) scale(1.0 1.05)" stroke="#1a1a1a" stroke-width="0.15" >764</text>
<text x="0" y="0" fill="#1a1a1a" font-size="15" text-anchor="middle" transform="translate(568.90 734.80) rotate(-90) scale(1.0 1.05)" stroke="#1a1a1a" stroke-width="0.15" >779</text>
<line x1="203.6" y1="720.3" x2="365.6" y2="720.3" stroke="#3c3c3c" stroke-width="0.9" />
<line x1="226.7" y1="779.3" x2="365.6" y2="779.3" stroke="#3c3c3c" stroke-width="0.9" />
<line x1="253.7" y1="839.2" x2="253.7" y2="871.4" stroke="#6e6e6e" stroke-width="1.0" />
<line x1="477" y1="839.2" x2="477" y2="871.4" stroke="#6e6e6e" stroke-width="1.0" />
<line x1="253.7" y1="867.5" x2="477" y2="867.5" stroke="#6e6e6e" stroke-width="1.0" />
<polygon points="254.20,867.50 260.70,865.30 260.70,869.70" fill="#111"/>
<polygon points="476.50,867.50 470.00,869.70 470.00,865.30" fill="#111"/>
<text x="0" y="0" fill="#ec8a2c" font-size="15" text-anchor="middle" transform="translate(365.70 866.60) scale(1.0 1.05)" stroke="#ec8a2c" stroke-width="0.15" >813</text>
<line x1="455.8" y1="588.2" x2="486.6" y2="618.7" stroke="#6e6e6e" stroke-width="1.0" />
<polygon points="456.30,588.70 462.45,591.74 459.34,594.85" fill="#111"/>
<polygon points="486.10,618.20 479.95,615.16 483.06,612.05" fill="#111"/>
<line x1="411.6" y1="631.3" x2="458.8" y2="585.2" stroke="#6e6e6e" stroke-width="0.8" />
<line x1="448.8" y1="656" x2="489.6" y2="615.7" stroke="#6e6e6e" stroke-width="0.8" />
<text x="0" y="0" fill="#1a1a1a" font-size="15" text-anchor="middle" transform="translate(475.18 601.02) rotate(45) scale(1.0 1.05)" stroke="#1a1a1a" stroke-width="0.15" >Ø158</text>
<line x1="419.4" y1="625.8" x2="449.7" y2="656" stroke="#6e6e6e" stroke-width="0.8" />
<rect x="267.6" y="654.3" width="2.4" height="170" stroke="#6e6e6e" stroke-width="0.8" fill="none" rx="0"/>
<rect x="265.6" y="675.4" width="7.1" height="5.3" stroke="#3c3c3c" stroke-width="0.9" fill="none" rx="1"/>
<rect x="265.5" y="812" width="5" height="8" stroke="#3c3c3c" stroke-width="0.7" fill="none" rx="0"/>
<rect x="460.79999999999995" y="654.3" width="2.4" height="170" stroke="#6e6e6e" stroke-width="0.8" fill="none" rx="0"/>
<rect x="458.09999999999997" y="675.4" width="7.1" height="5.3" stroke="#3c3c3c" stroke-width="0.9" fill="none" rx="1"/>
<rect x="460.29999999999995" y="812" width="5" height="8" stroke="#3c3c3c" stroke-width="0.7" fill="none" rx="0"/>
<rect x="271.7" y="691.2" width="7.6" height="132.5" stroke="#3c3c3c" stroke-width="1.0" fill="none" rx="0"/>
<rect x="451.6" y="691.7" width="7.4" height="132" stroke="#3c3c3c" stroke-width="1.0" fill="none" rx="0"/>
<circle cx="276" cy="701" r="1.2" stroke="#3c3c3c" stroke-width="0.8" fill="#3c3c3c" />
<circle cx="276" cy="817" r="1.2" stroke="#3c3c3c" stroke-width="0.8" fill="#3c3c3c" />
<circle cx="455" cy="701" r="1.2" stroke="#3c3c3c" stroke-width="0.8" fill="#3c3c3c" />
<circle cx="455" cy="817" r="1.2" stroke="#3c3c3c" stroke-width="0.8" fill="#3c3c3c" />
<line x1="279.3" y1="815.4" x2="451.6" y2="815.4" stroke="#3c3c3c" stroke-width="1.0" />
<line x1="279.3" y1="824" x2="451.6" y2="824" stroke="#3c3c3c" stroke-width="1.0" />
<g transform="translate(365.4,0) scale(1,1) translate(-365.4,0)">
<path d="M272.9,676.4 H298.7 V801.3 H365.4" stroke="#3c3c3c" stroke-width="1.3" fill="none" />
<path d="M298.7,676.4 L330.2,644.4 H365.4" stroke="#3c3c3c" stroke-width="1.4" fill="none" />
<line x1="330.2" y1="646.0" x2="365.4" y2="646.0" stroke="#6e6e6e" stroke-width="0.8" />
<path d="M304.2,648.5 L323.3,629.6 L330.2,644.4" stroke="#3c3c3c" stroke-width="1.0" fill="none" />
<line x1="332.2" y1="629.6" x2="332.2" y2="644.2" stroke="#6e6e6e" stroke-width="1.0" />
<path d="M279.5,676.4 V659.4 L297.3,642.3 L310.3,656 L300.7,665.6" stroke="#3c3c3c" stroke-width="1.1" fill="none" />
<path d="M281.2,660.5 L297.3,644.6 L308.1,656 L299.7,664.2" stroke="#6e6e6e" stroke-width="0.8" fill="none" />
<path d="M280.3,659.9 L297.3,643.4 L309.2,656 L300.2,664.9" stroke="#9a9a9a" stroke-width="0.6" fill="none" />
<path d="M281.5,662 L291.8,672.4 V676.4" stroke="#6e6e6e" stroke-width="0.9" fill="none" />
<path d="M293.4,676.4 V658.5 q0,-3.2 3,-3.2 q3,0 3,3.2 V676.4" stroke="#3c3c3c" stroke-width="1.0" fill="none" />
<line x1="297.3" y1="642.3" x2="326.1" y2="648.5" stroke="#3c3c3c" stroke-width="0.9" />
<path d="M334.3,648.5 H365.4" stroke="#6e6e6e" stroke-width="1.0" fill="none" />
<path d="M334.3,648.5 L322,660.5" stroke="#6e6e6e" stroke-width="0.9" fill="none" />
<line x1="335" y1="648.5" x2="335" y2="658.2" stroke="#6e6e6e" stroke-width="0.9" />
<path d="M321.4,793.5 V658.2 H365.4" stroke="#6e6e6e" stroke-width="1.0" fill="none" />
<path d="M306.2,677 L320.6,666.3 L313.8,683.4 Z" stroke="#6e6e6e" stroke-width="0.9" fill="none" />
<path d="M298.7,676.4 L306.2,679" stroke="#6e6e6e" stroke-width="0.8" fill="none" />
<line x1="306.2" y1="679" x2="306.2" y2="793.5" stroke="#6e6e6e" stroke-width="1.0" />
<path d="M306.2,793.5 H365.4 M298.7,801.3 L306.2,793.5" stroke="#6e6e6e" stroke-width="0.9" fill="none" />
<path d="M306.2,785.4 H365.4" stroke="#6e6e6e" stroke-width="0.8" fill="none" />
<rect x="314" y="783.5" width="6" height="2" stroke="#6e6e6e" stroke-width="0.7" fill="none" rx="0"/>
<circle cx="309.6" cy="727.7" r="2.2" stroke="#3c3c3c" stroke-width="0.9" fill="none" />
<circle cx="319.4" cy="790.4" r="2.3" stroke="#3c3c3c" stroke-width="0.9" fill="none" />
<line x1="305.5" y1="740" x2="305.5" y2="744" stroke="#3c3c3c" stroke-width="1.0" />
</g>
<g transform="translate(365.4,0) scale(-1,1) translate(-365.4,0)">
<path d="M272.9,676.4 H298.7 V801.3 H365.4" stroke="#3c3c3c" stroke-width="1.3" fill="none" />
<path d="M298.7,676.4 L330.2,644.4 H365.4" stroke="#3c3c3c" stroke-width="1.4" fill="none" />
<line x1="330.2" y1="646.0" x2="365.4" y2="646.0" stroke="#6e6e6e" stroke-width="0.8" />
<path d="M304.2,648.5 L323.3,629.6 L330.2,644.4" stroke="#3c3c3c" stroke-width="1.0" fill="none" />
<line x1="332.2" y1="629.6" x2="332.2" y2="644.2" stroke="#6e6e6e" stroke-width="1.0" />
<path d="M279.5,676.4 V659.4 L297.3,642.3 L310.3,656 L300.7,665.6" stroke="#3c3c3c" stroke-width="1.1" fill="none" />
<path d="M281.2,660.5 L297.3,644.6 L308.1,656 L299.7,664.2" stroke="#6e6e6e" stroke-width="0.8" fill="none" />
<path d="M280.3,659.9 L297.3,643.4 L309.2,656 L300.2,664.9" stroke="#9a9a9a" stroke-width="0.6" fill="none" />
<path d="M281.5,662 L291.8,672.4 V676.4" stroke="#6e6e6e" stroke-width="0.9" fill="none" />
<path d="M293.4,676.4 V658.5 q0,-3.2 3,-3.2 q3,0 3,3.2 V676.4" stroke="#3c3c3c" stroke-width="1.0" fill="none" />
<line x1="297.3" y1="642.3" x2="326.1" y2="648.5" stroke="#3c3c3c" stroke-width="0.9" />
<path d="M334.3,648.5 H365.4" stroke="#6e6e6e" stroke-width="1.0" fill="none" />
<path d="M334.3,648.5 L322,660.5" stroke="#6e6e6e" stroke-width="0.9" fill="none" />
<line x1="335" y1="648.5" x2="335" y2="658.2" stroke="#6e6e6e" stroke-width="0.9" />
<path d="M321.4,793.5 V658.2 H365.4" stroke="#6e6e6e" stroke-width="1.0" fill="none" />
<path d="M306.2,677 L320.6,666.3 L313.8,683.4 Z" stroke="#6e6e6e" stroke-width="0.9" fill="none" />
<path d="M298.7,676.4 L306.2,679" stroke="#6e6e6e" stroke-width="0.8" fill="none" />
<line x1="306.2" y1="679" x2="306.2" y2="793.5" stroke="#6e6e6e" stroke-width="1.0" />
<path d="M306.2,793.5 H365.4 M298.7,801.3 L306.2,793.5" stroke="#6e6e6e" stroke-width="0.9" fill="none" />
<path d="M306.2,785.4 H365.4" stroke="#6e6e6e" stroke-width="0.8" fill="none" />
<rect x="314" y="783.5" width="6" height="2" stroke="#6e6e6e" stroke-width="0.7" fill="none" rx="0"/>
<circle cx="309.6" cy="727.7" r="2.2" stroke="#3c3c3c" stroke-width="0.9" fill="none" />
<circle cx="319.4" cy="790.4" r="2.3" stroke="#3c3c3c" stroke-width="0.9" fill="none" />
<line x1="305.5" y1="740" x2="305.5" y2="744" stroke="#3c3c3c" stroke-width="1.0" />
</g>
<path d="M352,658.2 L366,652.5 L384,654 L384,658.2" stroke="#6e6e6e" stroke-width="0.8" fill="none" />
<circle cx="365.5" cy="652.5" r="1.8" stroke="#3c3c3c" stroke-width="0.8" fill="none" />
<rect x="325.7" y="681.5" width="79.8" height="78.4" stroke="#3c3c3c" stroke-width="1.3" fill="none" rx="1"/>
<circle cx="365.6" cy="720.2" r="27.2" stroke="#3c3c3c" stroke-width="1.2" fill="none" />
<circle cx="337.4" cy="692.8" r="2.8" stroke="#6e6e6e" stroke-width="0.8" fill="none" />
<circle cx="337.4" cy="692.8" r="1.4" stroke="#6e6e6e" stroke-width="0.7" fill="none" />
<circle cx="393.3" cy="692.8" r="2.8" stroke="#6e6e6e" stroke-width="0.8" fill="none" />
<circle cx="393.3" cy="692.8" r="1.4" stroke="#6e6e6e" stroke-width="0.7" fill="none" />
<circle cx="337.4" cy="749" r="2.8" stroke="#6e6e6e" stroke-width="0.8" fill="none" />
<circle cx="337.4" cy="749" r="1.4" stroke="#6e6e6e" stroke-width="0.7" fill="none" />
<circle cx="393.3" cy="749" r="2.8" stroke="#6e6e6e" stroke-width="0.8" fill="none" />
<circle cx="393.3" cy="749" r="1.4" stroke="#6e6e6e" stroke-width="0.7" fill="none" />
<circle cx="365.6" cy="779.1" r="24.9" stroke="#3c3c3c" stroke-width="0.9" fill="none" stroke-dasharray="3,2"/>
<line x1="365.6" y1="768" x2="365.6" y2="790" stroke="#6e6e6e" stroke-width="0.8" />
<line x1="354" y1="779.1" x2="377" y2="779.1" stroke="#6e6e6e" stroke-width="0.8" />
<path d="M346,787 L365.6,782 L385,787 L365.6,793 Z" stroke="#3c3c3c" stroke-width="0.9" fill="none" />
</svg></body></html>
